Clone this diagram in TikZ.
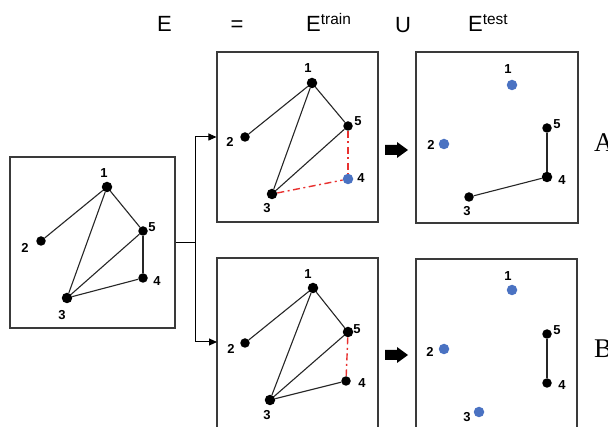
\documentclass[tikz,border=0pt]{standalone}
\usepackage{fontspec}
\setmainfont{Liberation Sans}
\newfontfamily\serifface{Liberation Serif}
\usetikzlibrary{arrows.meta}
\definecolor{dotblue}{HTML}{4A72C2}
\definecolor{dashred}{HTML}{E8312F}
\definecolor{frame}{HTML}{3A3A3A}
\tikzset{
  bd/.style={circle,fill=black,inner sep=0pt,minimum size=9.5pt},
  bdl/.style={bd,minimum size=10.5pt},
  ud/.style={circle,fill=dotblue,inner sep=0pt,minimum size=10.5pt},
  lb/.style={font=\fontsize{13}{13}\selectfont\bfseries,inner sep=0pt},
  edge/.style={line width=1.1pt,black!85},
  testedge/.style={line width=1.4pt,dashred,dash pattern=on 7pt off 3.5pt on 2pt off 3.5pt},
  panel/.style={draw=frame,line width=1.1pt,inner sep=0pt},
  title/.style={font=\fontsize{22}{22}\selectfont,inner sep=0pt},
  tag/.style={font=\serifface\fontsize{27}{27}\selectfont,inner sep=0pt,anchor=base west},
  feed/.style={line width=1pt,black,-{Triangle[length=8pt,width=7pt]}},
  blockarrow/.style={fill=black}
}
\begin{document}
\begin{tikzpicture}[x=1pt,y=-1pt]
\useasboundingbox (0,0) rectangle (608,427);

% heading: E = E^train U E^test
\node[title,anchor=base west] (hE) at (157,32) {E};
\node[title] (hEq) at (237,26) {=};
\node[title,anchor=base west] (hTr) at (306,32) {E\textsuperscript{train}};
\node[title] (hU) at (403,25) {U};
\node[title,anchor=base west] (hTe) at (468,32) {E\textsuperscript{test}};

% panels
\node[panel,minimum width=165pt,minimum height=171pt] (LB) at (92.5,242.5) {};
\node[panel,minimum width=161pt,minimum height=170pt] (TB) at (297.5,137) {};
\node[panel,minimum width=162pt,minimum height=171pt] (TR) at (497,137.5) {};
\coordinate (BMw) at (217,342);
\draw[draw=frame,line width=1.1pt] (217,430) -- (217,258) -- (378,258) -- (378,430);
\draw[draw=frame,line width=1.1pt] (416,430) -- (416,259) -- (577,259) -- (577,430);

% split of E into the two cases
\coordinate (split) at (195,243);
\draw[line width=1pt] (LB.east |- split) -- (split);
\draw[feed] (split) |- (TB.west);
\draw[feed] (split) |- (BMw);

% block arrows
\fill[blockarrow] (385,145) -- (397,145) -- (397,142) -- (408,150) -- (397,158) -- (397,155) -- (385,155) -- cycle;
\fill[blockarrow] (385,350) -- (397,350) -- (397,347) -- (408,355) -- (397,363) -- (397,360) -- (385,360) -- cycle;

% full graph
\node[bdl] (a1) at (107,187) {};
\node[bd] (a2) at (41,241) {};
\node[bdl] (a3) at (67,298) {};
\node[bd] (a4) at (143,278) {};
\node[bd] (a5) at (143,231) {};
\draw[edge] (a1) -- (a2);
\draw[edge] (a1) -- (a3);
\draw[edge] (a1) -- (a5);
\draw[edge] (a3) -- (a5);
\draw[edge] (a5) -- (a4);
\draw[edge] (a3) -- (a4);
\node[lb] at (104,173) {1};
\node[lb] at (25,248) {2};
\node[lb] at (62,315) {3};
\node[lb] at (157,281) {4};
\node[lb] at (152,227) {5};

% case A, training part
\node[bdl] (b1) at (312,83) {};
\node[bd] (b2) at (245,137) {};
\node[bdl] (b3) at (272,194) {};
\node[ud] (b4) at (348,179) {};
\node[bd] (b5) at (348,126) {};
\draw[edge] (b1) -- (b2);
\draw[edge] (b1) -- (b3);
\draw[edge] (b1) -- (b5);
\draw[edge] (b3) -- (b5);
\draw[testedge] (b5) -- (b4);
\draw[testedge] (b3) -- (b4);
\node[lb] at (308,68) {1};
\node[lb] at (230,142) {2};
\node[lb] at (267,208) {3};
\node[lb] at (361,178) {4};
\node[lb] at (358,121) {5};

% case A, test part
\node[ud] (c1) at (512,85) {};
\node[ud] (c2) at (444,144) {};
\node[bd] (c3) at (469,197) {};
\node[bdl] (c4) at (547,177) {};
\node[bd] (c5) at (547,128) {};
\draw[edge] (c5) -- (c4);
\draw[edge] (c3) -- (c4);
\node[lb] at (508,69) {1};
\node[lb] at (431,145) {2};
\node[lb] at (467,211) {3};
\node[lb] at (562,180) {4};
\node[lb] at (557,124) {5};
\node[tag] (tA) at (594,152) {A};

% case B, training part
\node[bdl] (d1) at (313,288) {};
\node[bd] (d2) at (245,343) {};
\node[bdl] (d3) at (270,400) {};
\node[bd] (d4) at (346,381) {};
\node[bdl] (d5) at (348,332) {};
\draw[edge] (d1) -- (d2);
\draw[edge] (d1) -- (d3);
\draw[edge] (d1) -- (d5);
\draw[edge] (d3) -- (d5);
\draw[edge] (d3) -- (d4);
\draw[testedge] (d5) -- (d4);
\node[lb] at (308,274) {1};
\node[lb] at (231,349) {2};
\node[lb] at (267,415) {3};
\node[lb] at (362,383) {4};
\node[lb] at (357,329) {5};

% case B, test part
\node[ud] (e1) at (512,290) {};
\node[ud] (e2) at (444,349) {};
\node[ud] (e3) at (479,412) {};
\node[bd] (e4) at (547,383) {};
\node[bd] (e5) at (547,334) {};
\draw[edge] (e5) -- (e4);
\node[lb] at (508,276) {1};
\node[lb] at (430,352) {2};
\node[lb] at (467,417) {3};
\node[lb] at (562,385) {4};
\node[lb] at (557,330) {5};
\node[tag] (tB) at (594,358) {B};
\end{tikzpicture}
\end{document}
